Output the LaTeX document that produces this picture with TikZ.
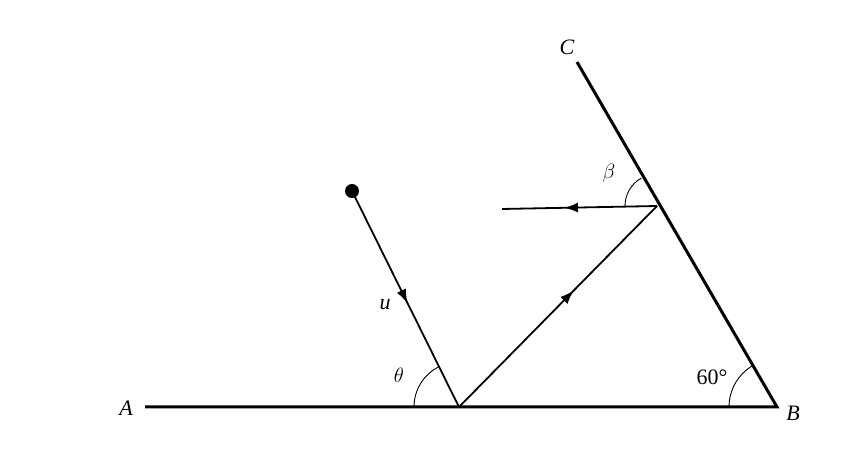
\documentclass[tikz,border=0pt]{standalone}
\usepackage{fontspec}
\setmainfont{Liberation Serif}
\usetikzlibrary{decorations.markings,arrows.meta}
\begin{document}
\begin{tikzpicture}[x=1pt,y=1pt,
  thick line/.style={line width=3pt},
  thin line/.style={line width=1.8pt},
  midarrow/.style={postaction={decorate},decoration={markings,mark=at position #1 with {\arrow{Latex[length=14pt,width=10pt]}}}},
  lab/.style={font=\fontsize{22}{26}\selectfont\itshape},
  arcline/.style={line width=0.9pt}]
\useasboundingbox (0,0) rectangle (863,466);
\coordinate (A) at (145,59);
\coordinate (B) at (777,59);
\coordinate (C) at (577,404);
\coordinate (P) at (459,59);
\coordinate (Q) at (657,260);
\coordinate (R) at (502,257);
\draw[thick line] (A) -- (B) -- (C);
\node[circle,fill,inner sep=0pt,minimum size=14pt] (ball) at (352,275) {};
\draw[thin line,midarrow=0.52] (ball.center) -- (P);
\draw[thin line,midarrow=0.58] (P) -- (Q);
\draw[thin line,midarrow=0.6] (Q) -- (R);
\draw[arcline] (P) ++(116.4:45) arc[start angle=116.4,end angle=180,radius=45];
\draw[arcline] (B) ++(120.1:48) arc[start angle=120.1,end angle=180,radius=48];
\draw[arcline] (Q) ++(119:32) arc[start angle=119,end angle=181,radius=32];
\node[lab] (lA) at (126,58) {A};
\node[lab] (lB) at (793,53) {B};
\node[lab] (lC) at (567,419) {C};
\node[lab] (lu) at (385,161) {u};
\node[lab] (lt) at (399,91) {$\theta$};
\node[lab] (lb) at (609,293) {$\beta$};
\node[font=\fontsize{22}{26}\selectfont] (l60) at (712,89) {60°};
\end{tikzpicture}
\end{document}
